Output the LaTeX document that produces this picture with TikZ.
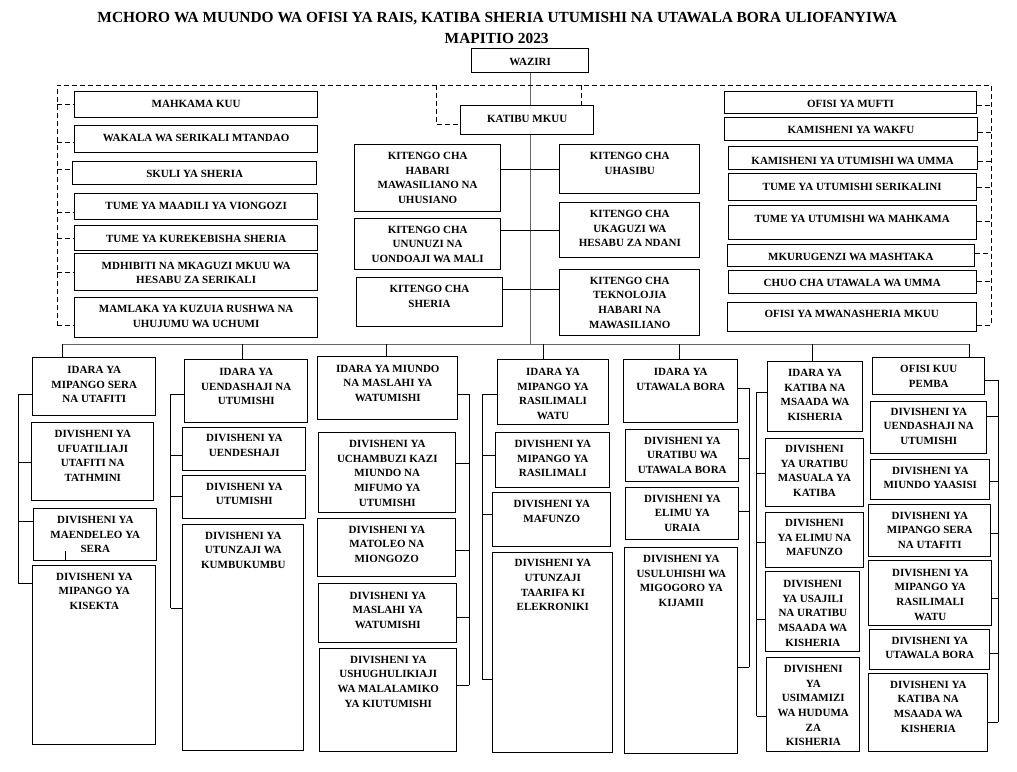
\documentclass[tikz,border=0pt]{standalone}
\usepackage{fontspec}
\setmainfont{Liberation Serif}
\tikzset{
  ubox/.style={draw, line width=1pt, inner sep=0pt, anchor=north west,
    font=\fontsize{11}{14.7}\selectfont\bfseries},
  cline/.style={line width=0.8pt},
  dline/.style={line width=0.8pt, dash pattern=on 5pt off 3pt},
  spine/.style={line width=1pt, black!60},
}
% name, x1, y1, x2, y2, centre of first text line, text
\newcommand\orgbox[7]{%
  \node[ubox] (#1) at (#2,#3) {\parbox[c][\dimexpr#5pt-#3pt\relax][t]{\dimexpr#4pt-#2pt\relax}{%
    \centering\vspace*{\dimexpr#6pt-#3pt-3.65pt\relax}#7\par}};}
\begin{document}
\begin{tikzpicture}[x=1pt,y=-1pt]
\useasboundingbox (0,0) rectangle (1017,771);
\node[font=\fontsize{15.4}{18}\selectfont\bfseries] (title) at (497.2,18.3)
  {MCHORO WA MUUNDO WA OFISI YA RAIS, KATIBA SHERIA UTUMISHI NA UTAWALA BORA ULIOFANYIWA};
\node[font=\fontsize{15.4}{18}\selectfont\bfseries] (mapitio) at (496.7,38.3) {MAPITIO 2023};

% top
\orgbox{waziri}{471}{48.3}{588.3}{72.3}{61.7}{WAZIRI}
\orgbox{katibu}{460}{105.3}{593.3}{134.3}{118.3}{KATIBU MKUU}

% taasisi upande wa kushoto
\orgbox{mahkama}{74}{90.7}{317.3}{117.3}{103.7}{MAHKAMA KUU}
\orgbox{wakala}{74}{124.7}{317.3}{152}{137}{WAKALA WA SERIKALI MTANDAO}
\orgbox{skuli}{72.3}{161.3}{316}{184.3}{173.3}{SKULI YA SHERIA}
\orgbox{maadili}{74}{193.3}{317.3}{219}{205.7}{TUME YA MAADILI YA VIONGOZI}
\orgbox{kurekebisha}{74}{225.3}{317.3}{250}{238}{TUME YA KUREKEBISHA SHERIA}
\orgbox{mdhibiti}{74}{253.3}{317.3}{290}{265}{MDHIBITI NA MKAGUZI MKUU WA\\HESABU ZA SERIKALI}
\orgbox{mamlaka}{74}{297.3}{317.3}{337.3}{308.7}{MAMLAKA YA KUZUIA RUSHWA NA\\UHUJUMU WA UCHUMI}

% vitengo
\orgbox{habari}{354.3}{144.3}{500}{211}{155.3}{KITENGO CHA\\HABARI\\MAWASILIANO NA\\UHUSIANO}
\orgbox{ununuzi}{354.3}{218.3}{500}{269.3}{229}{KITENGO CHA\\UNUNUZI NA\\UONDOAJI WA MALI}
\orgbox{sheria}{355.7}{277.3}{502.3}{325.7}{288.3}{KITENGO CHA\\SHERIA}
\orgbox{uhasibu}{559.3}{144.3}{699.3}{193.3}{155.3}{KITENGO CHA\\UHASIBU}
\orgbox{ukaguzi}{559.3}{202.3}{699.3}{257}{213.3}{KITENGO CHA\\UKAGUZI WA\\HESABU ZA NDANI}
\orgbox{teknolojia}{559.3}{269.3}{699.3}{335}{280}{KITENGO CHA\\TEKNOLOJIA\\HABARI NA\\MAWASILIANO}

% taasisi upande wa kulia
\orgbox{mufti}{724.3}{90.7}{975.7}{113.3}{103.7}{OFISI YA MUFTI}
\orgbox{wakfu}{724.3}{117.3}{976.7}{140}{129.3}{KAMISHENI YA WAKFU}
\orgbox{umma}{727.7}{146.3}{976.7}{169.3}{160}{KAMISHENI YA UTUMISHI WA UMMA}
\orgbox{serikalini}{727.7}{173.3}{975.7}{200}{186.7}{TUME YA UTUMISHI SERIKALINI}
\orgbox{tumemahkama}{727.7}{205.3}{975.7}{239}{218.3}{TUME YA UTUMISHI WA MAHKAMA}
\orgbox{mashtaka}{726.7}{244.3}{974}{266}{256}{MKURUGENZI WA MASHTAKA}
\orgbox{chuo}{727.7}{270.3}{975.7}{293.3}{282.7}{CHUO CHA UTAWALA WA UMMA}
\orgbox{mwanasheria}{726.7}{301.7}{975.7}{330.7}{313.3}{OFISI YA MWANASHERIA MKUU}

% idara 1
\orgbox{idaraSera}{32.3}{357.3}{155.3}{415.3}{369.3}{IDARA YA\\MIPANGO SERA\\NA UTAFITI}
\orgbox{ufuatiliaji}{31.3}{422.3}{153.3}{500.3}{433.3}{DIVISHENI YA\\UFUATILIAJI\\UTAFITI NA\\TATHMINI}
\orgbox{maendeleo}{33.3}{507.7}{156.3}{560.3}{519.3}{DIVISHENI YA\\MAENDELEO YA\\SERA}
\orgbox{kisekta}{32.3}{565.3}{155.3}{744.3}{576}{DIVISHENI YA\\MIPANGO YA\\KISEKTA}
% idara 2
\orgbox{idaraUendashaji}{184.3}{359.3}{307.3}{422}{371.3}{IDARA YA\\UENDASHAJI NA\\UTUMISHI}
\orgbox{uendeshaji}{182.3}{426.7}{305.3}{470}{437.3}{DIVISHENI YA\\UENDESHAJI}
\orgbox{utumishi}{182.3}{475.3}{305.3}{518.3}{486}{DIVISHENI YA\\UTUMISHI}
\orgbox{kumbukumbu}{182.3}{524.3}{303.3}{750}{535}{DIVISHENI YA\\UTUNZAJI WA\\KUMBUKUMBU}
% idara 3
\orgbox{idaraMiundo}{317.3}{356}{457.3}{419.3}{368}{IDARA YA MIUNDO\\NA MASLAHI YA\\WATUMISHI}
\orgbox{uchambuzi}{318.3}{432.3}{455.3}{512.3}{443.3}{DIVISHENI YA\\UCHAMBUZI KAZI\\MIUNDO NA\\MIFUMO YA\\UTUMISHI}
\orgbox{matoleo}{317.3}{518.3}{455.3}{576}{529}{DIVISHENI YA\\MATOLEO NA\\MIONGOZO}
\orgbox{maslahi}{318.3}{583.3}{456.3}{642.3}{595}{DIVISHENI YA\\MASLAHI YA\\WATUMISHI}
\orgbox{malalamiko}{319.3}{648.3}{456.3}{751}{659}{DIVISHENI YA\\USHUGHULIKIAJI\\WA MALALAMIKO\\YA KIUTUMISHI}
% idara 4
\orgbox{idaraRasilimali}{496.7}{359.3}{608.3}{424}{371.3}{IDARA YA\\MIPANGO YA\\RASILIMALI\\WATU}
\orgbox{mipangoRas}{495.3}{432.3}{609.3}{487}{443.3}{DIVISHENI YA\\MIPANGO YA\\RASILIMALI}
\orgbox{mafunzo}{492.3}{492.3}{610.3}{546}{503.3}{DIVISHENI YA\\MAFUNZO}
\orgbox{elekroniki}{492.3}{552.3}{612.3}{752}{562.7}{DIVISHENI YA\\UTUNZAJI\\TAARIFA KI\\ELEKRONIKI}
% idara 5
\orgbox{idaraUtawala}{623.3}{359.3}{737.3}{422}{371.3}{IDARA YA\\UTAWALA BORA}
\orgbox{uratibu}{625.3}{429.3}{738.3}{481.3}{440}{DIVISHENI YA\\URATIBU WA\\UTAWALA BORA}
\orgbox{uraia}{625.3}{487.3}{738.3}{539.3}{498}{DIVISHENI YA\\ELIMU YA\\URAIA}
\orgbox{migogoro}{624.3}{547.3}{737.3}{753.3}{558.3}{DIVISHENI YA\\USULUHISHI WA\\MIGOGORO YA\\KIJAMII}
% idara 6
\orgbox{idaraKatiba}{767.3}{360.7}{861.7}{431.3}{372.3}{IDARA YA\\KATIBA NA\\MSAADA WA\\KISHERIA}
\orgbox{masuala}{765.3}{437.7}{862.7}{506.3}{448.3}{DIVISHENI\\YA URATIBU\\MASUALA YA\\KATIBA}
\orgbox{elimu}{765.3}{511.7}{862.7}{567.3}{522.3}{DIVISHENI\\YA ELIMU NA\\MAFUNZO}
\orgbox{usajili}{765.3}{571.3}{859.3}{651.3}{583.3}{DIVISHENI\\YA USAJILI\\NA URATIBU\\MSAADA WA\\KISHERIA}
\orgbox{huduma}{766.3}{657.3}{859.3}{751.3}{668.3}{DIVISHENI\\YA\\USIMAMIZI\\WA HUDUMA\\ZA\\KISHERIA}
% ofisi kuu pemba
\orgbox{pemba}{872.3}{356.7}{984.3}{394}{368.3}{OFISI KUU\\PEMBA}
\orgbox{pUendashaji}{870.3}{400.7}{986.3}{453.3}{411}{DIVISHENI YA\\UENDASHAJI NA\\UTUMISHI}
\orgbox{pMiundo}{870.3}{459.3}{989.3}{499}{470}{DIVISHENI YA\\MIUNDO YAASISI}
\orgbox{pSera}{868.3}{503.7}{990.3}{556.3}{515}{DIVISHENI YA\\MIPANGO SERA\\NA UTAFITI}
\orgbox{pRasilimali}{868.3}{560.3}{991.3}{625.3}{572}{DIVISHENI YA\\MIPANGO YA\\RASILIMALI\\WATU}
\orgbox{pUtawala}{869.3}{629.3}{989.3}{669}{640}{DIVISHENI YA\\UTAWALA BORA}
\orgbox{pKatiba}{868.3}{673.3}{987.3}{751.3}{684}{DIVISHENI YA\\KATIBA NA\\MSAADA WA\\KISHERIA}

% mstari mkuu
\coordinate (bus) at (62.3,344.3);
\coordinate (busend) at (969.3,344.3);
\draw[spine] (waziri.south) -- (waziri.south |- katibu.north);
\draw[spine] (waziri.south |- katibu.south) -- (waziri.south |- bus);
\draw[spine] (bus) -- (busend);
\foreach \n/\x in {idaraSera/62.3,idaraUendashaji/242.3,idaraMiundo/386.7,idaraRasilimali/543.3,
                   idaraUtawala/679.3,idaraKatiba/812.3,pemba/969.3}
  \draw[cline] (bus -| \x,0) -- (\n.north -| \x,0);

% vitengo
\foreach \a/\b/\y in {habari/uhasibu/169,ununuzi/ukaguzi/230.7,sheria/teknolojia/289.3}
  \draw[cline] (\a.east |- 0,\y) -- (\b.west |- 0,\y);

% mistari ya vistari
\coordinate (lt) at (57,85);
\coordinate (rt) at (991,85);
\draw[dline] (lt |- 0,325.7) -- (lt) -- (rt) -- (rt |- 0,325.7);
\foreach \n/\y in {mahkama/104,wakala/142.3,skuli/169.3,maadili/212.3,kurekebisha/238,
                   mdhibiti/272.7,mamlaka/325.7}
  \draw[dline] (lt |- 0,\y) -- (\n.west |- 0,\y);
\foreach \n/\y in {mufti/105,wakfu/132.7,umma/161,serikalini/187.3,tumemahkama/221.7,
                   mashtaka/253,chuo/281,mwanasheria/325.7}
  \draw[dline] (\n.east |- 0,\y) -- (rt |- 0,\y);
\coordinate (kl) at (436,85);
\coordinate (kr) at (581,85);
\draw[dline] (kl) |- (katibu.west |- 0,124);
\draw[dline] (kr) -- (katibu.north -| kr);

% idara 1
\coordinate (bar1) at (18.3,394.3);
\draw[cline] (bar1) -- (bar1 |- 0,583.3);
\foreach \n/\y in {idaraSera/394.3,ufuatiliaji/462.3,maendeleo/521.7,kisekta/583.3}
  \draw[cline] (bar1 |- 0,\y) -- (\n.west |- 0,\y);
\draw[cline] (65.7,551) -- (maendeleo.south -| 65.7,0);
% idara 2
\coordinate (bar2) at (170.7,394.3);
\draw[cline] (bar2) -- (bar2 |- 0,608.3);
\foreach \n/\y in {idaraUendashaji/394.3,uendeshaji/455.7,utumishi/496,kumbukumbu/608.3}
  \draw[cline] (bar2 |- 0,\y) -- (\n.west |- 0,\y);
% idara 3
\coordinate (bar3) at (469,394.3);
\draw[cline] (bar3) -- (bar3 |- 0,685);
\foreach \n/\y in {idaraMiundo/394.3,uchambuzi/463.3,matoleo/550.7,maslahi/617.3,malalamiko/685}
  \draw[cline] (\n.east |- 0,\y) -- (bar3 |- 0,\y);
% idara 4
\coordinate (bar4) at (482.3,394.3);
\draw[cline] (bar4) -- (bar4 |- 0,679.3);
\foreach \n/\y in {idaraRasilimali/394.3,mipangoRas/455.7,mafunzo/514.3,elekroniki/679.3}
  \draw[cline] (bar4 |- 0,\y) -- (\n.west |- 0,\y);
% idara 5
\coordinate (bar5) at (749.3,388.3);
\draw[cline] (bar5) -- (bar5 |- 0,667.3);
\foreach \n/\y in {idaraUtawala/388.3,uratibu/458.3,uraia/511.3,migogoro/667.3}
  \draw[cline] (\n.east |- 0,\y) -- (bar5 |- 0,\y);
% idara 6
\coordinate (bar6) at (756.7,392.3);
\draw[cline] (bar6) -- (bar6 |- 0,716);
\foreach \n/\y in {idaraKatiba/392.3,masuala/473.3,elimu/542,usajili/619.3,huduma/716}
  \draw[cline] (bar6 |- 0,\y) -- (\n.west |- 0,\y);
% pemba
\coordinate (bar7) at (998.3,380.3);
\draw[cline] (bar7) -- (bar7 |- 0,722);
\foreach \n/\y in {pemba/380.3,pUendashaji/416.3,pMiundo/481,pSera/533,pRasilimali/598,
                   pUtawala/653.3,pKatiba/722}
  \draw[cline] (\n.east |- 0,\y) -- (bar7 |- 0,\y);
\end{tikzpicture}
\end{document}
